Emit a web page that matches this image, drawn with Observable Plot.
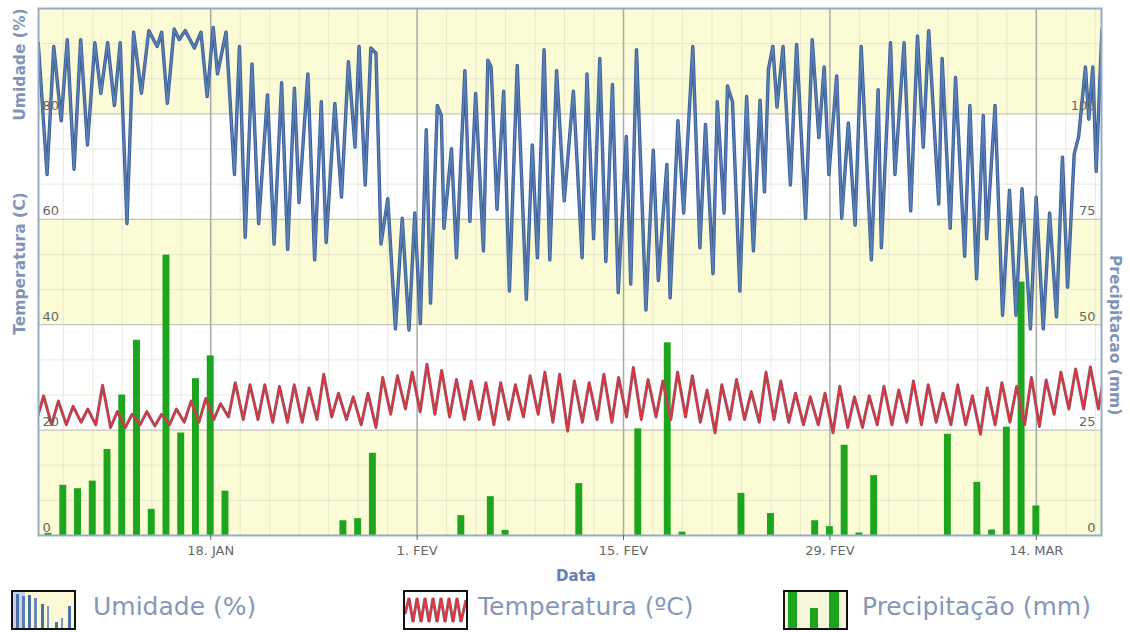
<!DOCTYPE html>
<html><head><meta charset="utf-8">
<script src="https://cdn.jsdelivr.net/npm/d3@7"></script>
<script src="https://cdn.jsdelivr.net/npm/@observablehq/plot@0.6"></script>
<style>
body{margin:0;background:#fff;font-family:"DejaVu Sans",Verdana,sans-serif;}
#chart svg{display:block;}
#legend{position:relative;height:42px;width:1130px;}
.box{position:absolute;top:0;width:61px;height:36px;border:2px solid #111;}
.box svg{display:block;}
.lbl{position:absolute;top:2px;font-size:25px;line-height:30px;color:#8597b9;white-space:nowrap;}
</style></head><body>
<div id="chart"></div>
<div id="legend">
  <div class="box" style="left:11px"><svg width="61" height="36">
    <rect width="61" height="36" fill="#fbf8d6"/>
    <rect x="0" width="12" height="36" fill="#c9d3e3"/>
    <rect x="3" y="2" width="3" height="34" fill="#4c70a8"/>
    <rect x="9" y="4" width="3" height="32" fill="#5a7db3"/>
    <rect x="15" y="3" width="3" height="33" fill="#4c70a8"/>
    <rect x="21" y="6" width="3" height="30" fill="#6b8bbd"/>
    <rect x="28" y="12" width="3" height="24" fill="#4c70a8"/>
    <rect x="34" y="14" width="2" height="22" fill="#7b97c4"/>
    <rect x="42" y="30" width="3" height="6" fill="#4c70a8"/>
    <rect x="48" y="26" width="2" height="10" fill="#7b97c4"/>
    <rect x="55" y="14" width="3" height="22" fill="#4c70a8"/>
  </svg></div>
  <div class="lbl" style="left:93px">Umidade (%)</div>
  <div class="box" style="left:403px"><svg width="61" height="36">
    <rect width="61" height="36" fill="#fff"/>
    <polyline points="0,22 4,6 8,30 12,6 16,30 20,6 24,30 28,6 32,30 36,6 40,30 44,6 48,30 52,6 56,30 61,8" fill="none" stroke="#8a6070" stroke-width="3"/>
    <polyline points="0,22 4,6 8,30 12,6 16,30 20,6 24,30 28,6 32,30 36,6 40,30 44,6 48,30 52,6 56,30 61,8" fill="none" stroke="#e8303a" stroke-width="1.6"/>
  </svg></div>
  <div class="lbl" style="left:478px">Temperatura (ºC)</div>
  <div class="box" style="left:783px"><svg width="61" height="36">
    <rect width="61" height="36" fill="#f6f6dc"/>
    <rect x="3" y="0" width="9" height="36" fill="#1ea51e"/>
    <rect x="25" y="16" width="8" height="20" fill="#1ea51e"/>
    <rect x="44" y="0" width="10" height="36" fill="#1ea51e"/>
  </svg></div>
  <div class="lbl" style="left:862px">Precipitação (mm)</div>
</div>
<script>
// ---- data ----
const dateRange = ["2016-01-06T07:40:00Z", "2016-03-18T10:05:00Z"];
const tickDates = ["2016-01-18", "2016-02-01", "2016-02-15", "2016-02-29", "2016-03-14"];
const tickLabels = ["18. JAN", "1. FEV", "15. FEV", "29. FEV", "14. MAR"];
const leftTicks = [0, 20, 40, 60, 80];
const rightTicks = [0, 25, 50, 75, 100];
const precipMax = 125;

// humidity vertices: time as fractional day of year 2016 (Jan 1 00:00 = 0), value in %
const humT = [5.30,5.90,6.355,6.86,7.27,7.73,8.18,8.64,9.14,9.55,10.01,10.47,10.86,11.32,11.77,12.30,12.80,13.37,13.67,14.06,14.52,14.86,15.27,15.89,16.34,16.76,17.17,17.46,18.04,18.61,18.95,19.34,19.80,20.25,20.85,21.30,21.81,22.22,22.68,22.99,23.59,24.05,24.50,24.83,25.42,25.87,26.34,26.79,27.06,27.48,27.86,28.21,28.55,29.01,29.53,29.99,30.45,30.84,31.22,31.62,31.91,32.37,32.64,32.82,33.33,33.67,34.24,34.58,34.97,35.50,35.80,36.02,36.42,36.87,37.26,37.79,38.41,38.81,39.16,39.61,40.00,40.46,40.98,41.60,42.19,42.52,42.97,43.39,43.80,44.25,44.64,45.19,45.49,45.88,46.52,47.02,47.36,47.94,48.16,48.69,49.08,49.70,50.18,50.56,51.07,51.36,51.82,52.05,52.39,52.89,53.35,53.81,54.26,54.56,54.83,55.13,55.41,55.82,56.32,56.74,57.35,57.80,58.25,58.61,58.93,59.46,59.80,60.25,60.71,61.12,61.81,62.27,62.49,63.11,63.41,64.03,64.48,64.94,65.33,65.70,66.38,66.61,67.16,67.52,68.14,68.49,68.95,69.40,69.63,70.20,70.71,71.18,71.62,72.03,72.60,72.99,73.47,73.90,74.37,74.77,75.12,75.57,75.87,76.33,76.56,76.83,77.06,77.45];
const humV = [93.5,68.5,92.8,78.7,94.1,69.5,94.1,74.1,93.5,83.9,93.5,81.6,93.5,59.2,95.5,83.9,95.8,92.8,95.5,82.0,96.1,94.1,95.8,92.5,95.5,83.3,96.4,87.6,95.5,68.5,92.8,56.6,89.5,59.2,83.6,55.3,85.9,54.3,84.9,63.2,87.6,52.3,82.3,55.6,82.0,64.2,89.9,73.7,92.8,66.5,92.5,91.5,55.3,63.9,39.2,60.2,39.0,61.2,40.2,77.0,44.1,81.6,79.7,58.3,73.4,52.7,88.2,59.6,83.9,54.0,90.2,88.9,61.9,84.3,46.4,89.2,44.8,74.1,52.7,92.2,52.3,88.2,63.5,84.3,52.7,87.6,56.3,90.5,52.0,85.6,46.1,75.7,47.7,92.2,42.8,73.1,48.4,70.4,45.1,78.7,61.2,92.8,54.6,78.0,49.7,82.3,61.2,85.3,82.3,46.4,83.3,54.0,82.6,65.2,88.5,92.8,81.3,92.8,66.5,93.2,60.2,94.1,75.5,88.9,68.5,87.2,60.2,78.3,58.9,92.8,52.3,84.6,54.6,93.5,68.5,93.5,61.6,94.8,73.7,95.8,62.9,90.5,58.3,86.9,53.0,81.6,48.7,79.7,56.3,81.6,41.8,65.5,41.8,65.8,39.2,64.2,39.2,61.2,41.5,71.8,47.1,72.4,75.7,88.9,79.0,88.9,69.1,96.0];

// temperature: daily max / min (°C), Jan 6 ... Mar 18
const tempMax = [26.5,25.5,24.5,24.0,28.5,23.5,23.0,23.5,23.0,24.0,25.5,26.0,25.0,
  29.0,28.6,28.6,28.3,28.6,28.0,30.6,27.0,26.3,27.0,30.0,30.3,31.0,
  32.5,31.3,29.6,29.3,29.0,29.0,28.6,30.3,31.0,30.6,29.3,29.0,30.6,30.0,
  31.9,29.6,29.3,31.0,30.3,27.6,28.6,29.6,27.3,31.0,29.3,27.0,26.3,27.0,28.3,
  26.3,26.5,28.3,27.6,29.3,28.6,27.0,28.6,26.5,28.0,29.0,28.3,30.0,29.5,31.0,31.6,32.0,31.6];
const tempMin = [22.0,21.0,21.0,21.5,21.0,20.5,20.5,21.0,20.8,21.0,21.5,21.5,22.0,
  22.5,22.0,22.0,21.5,21.5,21.5,22.0,22.5,22.0,21.0,20.5,23.0,24.0,
  23.5,23.0,22.5,22.0,22.0,21.0,22.0,22.5,23.0,21.5,19.8,21.5,22.0,21.5,
  22.5,22.0,22.5,22.0,22.5,21.5,19.5,22.0,22.0,21.5,22.0,21.5,21.0,21.0,19.5,
  20.5,20.5,21.0,21.0,21.5,21.0,21.5,21.0,21.0,19.2,21.0,21.5,21.0,20.7,23.0,24.0,24.0,24.0];

// precipitation (mm) per day
const precipDates = ["2016-01-07","2016-01-08","2016-01-09","2016-01-10","2016-01-11","2016-01-12","2016-01-13","2016-01-14","2016-01-15","2016-01-16","2016-01-17","2016-01-18","2016-01-19","2016-01-27","2016-01-28","2016-01-29","2016-02-04","2016-02-06","2016-02-07","2016-02-12","2016-02-16","2016-02-18","2016-02-19","2016-02-23","2016-02-25","2016-02-28","2016-02-29","2016-03-01","2016-03-02","2016-03-03","2016-03-08","2016-03-10","2016-03-11","2016-03-12","2016-03-13","2016-03-14"];
const precipValues = [0.5,11.9,11.1,12.9,20.4,33.3,46.3,6.2,66.5,24.3,37.2,42.6,10.5,3.5,4.0,19.5,4.7,9.2,1.2,12.3,25.3,45.7,0.8,10.0,5.2,3.5,2.1,21.4,0.6,14.2,24.0,12.6,1.3,25.7,60.1,7.0];

// ---- build tables ----
const DAY = 864e5, HOUR = 36e5;
const T0 = Date.UTC(2016, 0, 1);
const humidity = humT.map((t, i) => ({date: new Date(T0 + t * DAY), v: humV[i]}));
const temperature = [];
tempMax.forEach((mx, i) => {
  const d0 = Date.UTC(2016, 0, 6 + i);
  temperature.push({date: new Date(d0 + 5 * HOUR), v: tempMin[i]});
  temperature.push({date: new Date(d0 + 16 * HOUR), v: mx});
});
const precip = precipDates.map((d, i) => ({date: new Date(d + "T00:00:00Z"), mm: precipValues[i]}));
const xDomain = dateRange.map(d => new Date(d));
const majorX = tickDates.map(d => new Date(d + "T00:00:00Z"));
const minorX = d3.utcDays(xDomain[0], xDomain[1]).filter(d => Math.round((d - majorX[0]) / DAY) % 2 === 0 && !majorX.some(m => +m === +d));
const minorY = d3.range(0, 100, 20).flatMap(v => [v + 20 / 3, v + 40 / 3]);
const bandLows = [0, 40, 80];
const toY = mm => mm * 100 / precipMax;

const chart = Plot.plot({
  width: 1130, height: 590,
  marginTop: 8, marginBottom: 55, marginLeft: 38, marginRight: 29,
  style: {fontFamily: '"DejaVu Sans", Verdana, sans-serif', background: "#fff"},
  x: {type: "utc", domain: xDomain},
  y: {domain: [0, 100]},
  marks: [
    Plot.rect(bandLows, {y1: d => d, y2: d => d + 20, fill: "#fbfbd6"}),
    Plot.gridX(minorX, {stroke: "#dcdcc8", strokeOpacity: 0.6}),
    Plot.gridY(minorY, {stroke: "#dcdcc8", strokeOpacity: 0.6}),
    Plot.gridY([20, 40, 60, 80], {stroke: "#b9b9b0", strokeOpacity: 1}),
    Plot.gridX(majorX, {stroke: "#a9a9a9", strokeWidth: 1.5, strokeOpacity: 1}),
    Plot.rect(precip, {
      x1: d => new Date(+d.date - 0.235 * DAY), x2: d => new Date(+d.date + 0.235 * DAY),
      y1: 0, y2: d => toY(d.mm), fill: "#1ea51e"
    }),
    Plot.line(humidity, {x: "date", y: "v", stroke: "#3a5c92", strokeWidth: 3.4, strokeLinejoin: "round", clip: true}),
    Plot.line(humidity, {x: "date", y: "v", stroke: "#5a80ba", strokeWidth: 1.6, strokeLinejoin: "round", clip: true}),
    Plot.line(temperature, {x: "date", y: "v", stroke: "#8a5a6a", strokeWidth: 3, strokeLinejoin: "round", clip: true}),
    Plot.line(temperature, {x: "date", y: "v", stroke: "#e8303a", strokeWidth: 1.5, strokeLinejoin: "round", clip: true}),
    Plot.frame({stroke: "#97abc6", strokeWidth: 2}),
    Plot.axisX(majorX, {
      tickFormat: d => tickLabels[majorX.findIndex(m => +m === +d)],
      tickSize: 5, tickPadding: 5, fontSize: 13, color: "#666", label: null
    }),
    Plot.axisY(leftTicks, {anchor: "left", tickSize: 0, tickPadding: 0, textAnchor: "start",
      dx: 4, dy: -8, fontSize: 13, color: "#666", label: null}),
    Plot.axisY(rightTicks.map(toY), {anchor: "right", tickSize: 0, tickPadding: 0, textAnchor: "end",
      dx: -6, dy: -8, fontSize: 13, color: "#666", label: null,
      tickFormat: d => String(Math.round(d * precipMax / 100))}),
    Plot.text(["Umidade (%)"], {frameAnchor: "left", y: 78.7, dx: -18, rotate: -90,
      fontSize: 15.5, fontWeight: "bold", fill: "#7f94b8"}),
    Plot.text(["Temperatura (C)"], {frameAnchor: "left", y: 38.1, dx: -18, rotate: -90,
      fontSize: 15.5, fontWeight: "bold", fill: "#7f94b8"}),
    Plot.text(["Precipitacao (mm)"], {frameAnchor: "right", y: 22.8, dx: 13, rotate: 90,
      fontSize: 15.5, fontWeight: "bold", fill: "#7f94b8"}),
    Plot.text(["Data"], {frameAnchor: "bottom", dx: 6, dy: 45, fontSize: 15,
      fontWeight: "bold", fill: "#6282ad"})
  ]
});
document.getElementById("chart").appendChild(chart);
</script>
</body></html>
